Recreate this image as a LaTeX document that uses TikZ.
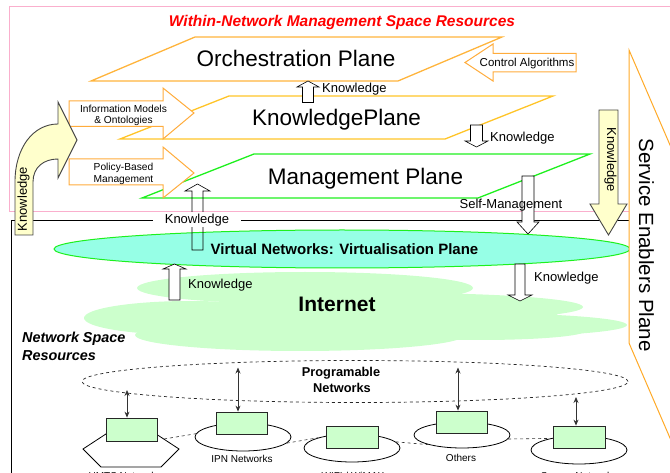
\documentclass[tikz,border=0pt]{standalone}
\usepackage{fontspec}
\setmainfont{Liberation Sans}
\usetikzlibrary{arrows.meta,shapes.geometric}

\definecolor{pinkline}{RGB}{250,175,205}
\definecolor{orchcol}{RGB}{255,180,60}
\definecolor{kpcol}{RGB}{255,196,40}
\definecolor{mgreen}{RGB}{30,240,30}
\definecolor{virtfill}{RGB}{150,255,230}
\definecolor{cloudgreen}{RGB}{204,255,204}
\definecolor{boxgreen}{RGB}{204,255,204}
\definecolor{paleyellow}{RGB}{255,255,204}
\definecolor{arrowgray}{RGB}{70,70,70}
\definecolor{titlered}{RGB}{255,0,0}
\definecolor{secol}{RGB}{255,170,40}
\definecolor{arrorange}{RGB}{255,172,60}

% vertical block arrow: style, x, tip y, head-base y, tail y, shaft half width, head half width
\newcommand{\vblockarrow}[7]{%
  \draw[#1] (#2-#6,#5) -- (#2-#6,#4) -- (#2-#7,#4) -- (#2,#3) -- (#2+#7,#4)
    -- (#2+#6,#4) -- (#2+#6,#5) -- cycle;}

\tikzset{
  planeorch/.style={draw=orchcol, line width=1.3pt, line join=miter},
  planekp/.style={draw=kpcol, line width=1.3pt, line join=miter},
  planemg/.style={draw=mgreen, line width=1.3pt, line join=miter},
  planelbl/.style={font=\fontsize{22.5}{27}\selectfont, inner sep=0pt, anchor=base},
  orangearrow/.style={draw=arrorange, fill=white, line width=1pt, line join=miter},
  hollowarrow/.style={draw=black, fill=white, line width=0.6pt},
  openarrow/.style={draw=black, line width=0.6pt},
  yellowarrow/.style={draw=arrowgray, fill=paleyellow, line width=0.9pt, line join=miter},
  klbl/.style={font=\fontsize{13}{15}\selectfont, inner sep=0pt},
  tinylbl/.style={font=\fontsize{10.2}{12}\selectfont, inner sep=0pt, anchor=base},
  netlbl/.style={font=\fontsize{10}{12}\selectfont, inner sep=0pt, anchor=base},
  netbox/.style={draw=black!85, fill=boxgreen, line width=0.8pt, minimum width=51pt,
    minimum height=22pt, inner sep=0pt},
  netring/.style={ellipse, draw=black, fill=white, line width=0.8pt, minimum width=96pt,
    minimum height=28pt, inner sep=0pt},
  linkdash/.style={draw=black!80, dashed, line width=0.6pt},
  updown/.style={draw=black!80, line width=0.8pt,
    {Stealth[length=6pt,width=5pt]}-{Stealth[length=6pt,width=5pt]}},
}

\begin{document}
\begin{tikzpicture}[x=1pt,y=-1pt]
\useasboundingbox (0,0) rectangle (670,473);
\clip (0,0) rectangle (670,473);

% frames of the two resource spaces
\draw[pinkline, line width=1pt] (670,7) -- (9,7) -- (9,212) -- (629,212);
\draw[black, line width=0.9pt] (629,220) -- (11,220) -- (11,473);

% Internet cloud
\begin{scope}[cloudgreen]
  \fill (305,288) ellipse [x radius=168pt, y radius=16pt];
  \fill (190,318) ellipse [x radius=106pt, y radius=17pt];
  \fill (400,307) ellipse [x radius=183pt, y radius=14pt];
  \fill (470,325) ellipse [x radius=157pt, y radius=12pt];
  \fill (300,335) ellipse [x radius=165pt, y radius=16pt];
  \fill (480,331) ellipse [x radius=105pt, y radius=9pt];
  \fill (360,318) ellipse [x radius=200pt, y radius=22pt];
\end{scope}
\node[font=\fontsize{21}{25}\selectfont\bfseries, inner sep=0pt, anchor=base] (inet) at (337,311.5) {Internet};

% virtualisation plane
\node[ellipse, draw=mgreen, fill=virtfill, line width=1pt, minimum width=576pt,
  minimum height=38pt, inner sep=0pt] (virt) at (342,249) {};
\node[font=\fontsize{15}{18}\selectfont\bfseries, inner sep=0pt, anchor=base] (virtlbl)
  at (344.5,255) {Virtual Networks: Virtualisation Plane};

% the three management-space planes
\draw[planeorch] (91,81) -- (195,37) -- (502,37) -- (398,81) -- cycle;
\node[planelbl] (orch) at (296,67) {Orchestration Plane};
\draw[planekp] (120,139) -- (229,96) -- (553,96) -- (445,139) -- cycle;
\node[planelbl] (kp) at (336.5,126) {KnowledgePlane};
\draw[planemg] (142,198) -- (254,154) -- (590,154) -- (478,198) -- cycle;
\node[planelbl] (mp) at (365.5,184.3) {Management Plane};

% title
\node[font=\fontsize{15.5}{18}\selectfont\bfseries\itshape, text=titlered, inner sep=0pt,
  anchor=base] (title) at (342,26.5) {Within-Network Management Space Resources};

% input arrows
\draw[orangearrow] (465,62.5) -- (493,44) -- (493,53.5) -- (576,53.5) -- (576,72)
  -- (493,72) -- (493,81) -- cycle;
\node[font=\fontsize{11.5}{13}\selectfont, inner sep=0pt, anchor=base] (ctrl) at (527,66.5) {Control Algorithms};

\draw[orangearrow] (69,101) -- (163,101) -- (163,88) -- (194,113) -- (163,139)
  -- (163,126.5) -- (69,126.5) -- cycle;
\node[tinylbl] (im1) at (123.5,112.3) {Information Models};
\node[tinylbl] (im2) at (123.5,124) {\& Ontologies};

\draw[orangearrow] (69,159) -- (163,159) -- (163,147) -- (194,173) -- (163,198)
  -- (163,185) -- (69,185) -- cycle;
\node[tinylbl] (pb1) at (123.5,170.7) {Policy-Based};
\node[tinylbl] (pb2) at (123.5,182.7) {Management};

% curved knowledge arrow on the left
\draw[yellowarrow] (15,235) -- (15,182) .. controls (15,148) and (33,124) .. (58,124)
  -- (58,102) -- (77,140) -- (58,178) -- (58,159)
  .. controls (44,159) and (33,167) .. (33,182) -- (33,235) -- cycle;
\node[klbl, rotate=90] (kleft) at (23.5,199) {Knowledge};

% knowledge arrow on the right
\vblockarrow{yellowarrow}{608.5}{235}{204}{110}{9.5}{18.5}
\node[klbl, rotate=-90] (kright) at (610.5,160) {Knowledge};

% knowledge flows between planes
\vblockarrow{hollowarrow}{308}{81}{87}{102.5}{5.5}{11}
\node[klbl, anchor=base west] (k1) at (322,92.3) {Knowledge};

\vblockarrow{hollowarrow}{476.5}{147}{141}{125}{6}{11.5}
\node[klbl, anchor=base west] (k2) at (490,141.7) {Knowledge};

\vblockarrow{openarrow}{197.5}{184}{191}{250}{5.5}{12.5}
\node[klbl, fill=white, minimum width=88pt, minimum height=15pt, anchor=center] (k3)
  at (197,220) {Knowledge};

\vblockarrow{hollowarrow}{528}{234}{222}{176}{6}{11}
\node[klbl, anchor=base] (selfm) at (511,209) {Self-Management};

\vblockarrow{hollowarrow}{174.5}{264}{269}{300}{5.5}{11.5}
\node[klbl, anchor=base west] (k4) at (188,288.7) {Knowledge};

\vblockarrow{hollowarrow}{520}{301}{295}{264}{5}{12}
\node[klbl, anchor=base west] (k5) at (534,282) {Knowledge};

% service enablers plane
\draw[secol, fill=white, line width=1pt] (629,50) -- (629,343) -- (700,507.5) -- (700,214.5) -- cycle;
\node[font=\fontsize{20.5}{24}\selectfont, inner sep=0pt, rotate=-90] (sep) at (646.5,245) {Service Enablers Plane};

% network space resources
\node[font=\fontsize{14.4}{18}\selectfont\bfseries\itshape, inner sep=0pt, anchor=base west] (ns1)
  at (22,342.7) {Network Space};
\node[font=\fontsize{14.4}{18}\selectfont\bfseries\itshape, inner sep=0pt, anchor=base west] (ns2)
  at (22,360.7) {Resources};

\node[ellipse, draw=black!85, dashed, line width=0.7pt, minimum width=546pt, minimum height=42pt,
  inner sep=0pt] (prog) at (355,381.5) {};
\node[font=\fontsize{12.8}{15}\selectfont\bfseries, inner sep=0pt, anchor=base] (pg1) at (341,376.7) {Programable};
\node[font=\fontsize{12.8}{15}\selectfont\bfseries, inner sep=0pt, anchor=base] (pg2) at (342,392.7) {Networks};

% access networks
\draw[draw=black, fill=white, line width=0.8pt] (83,449) -- (109,432) -- (153,432) -- (179,449)
  -- (161,467) -- (101,467) -- cycle;
\coordinate (umtsE) at (164,439);
\node[netring] (ipn) at (243,437) {};
\node[netring] (wifi) at (352,448) {};
\node[netring, minimum height=26pt] (others) at (462,435) {};
\node[netring] (sensor) at (579,450) {};

\draw[linkdash] (umtsE) -- (ipn.176);
\draw[linkdash] (ipn.-8) -- (wifi.163);
\draw[linkdash] (wifi.8) -- (others.196);
\draw[linkdash] (others.-5) -- (sensor.158);

\node[netbox, minimum height=23pt] (umtsbox) at (131.5,429.5) {};
\node[netbox] (ipnbox) at (241.5,423) {};
\node[netbox, minimum width=52pt] (wifibox) at (352,437) {};
\node[netbox] (othersbox) at (461.5,422) {};
\node[netbox, minimum width=52pt] (sensorbox) at (579,437) {};

\coordinate (pUmts) at (127,390);
\coordinate (pIpn) at (238,367.5);
\coordinate (pOthers) at (458,367.5);
\coordinate (pSensor) at (576,397);
\draw[updown] (pUmts) -- (pUmts |- umtsbox.north);
\draw[updown] (pIpn) -- (pIpn |- ipnbox.north);
\draw[updown] (pOthers) -- (pOthers |- othersbox.north);
\draw[updown] (pSensor) -- (pSensor |- sensorbox.north);

\node[netlbl] (umtslbl) at (125,479) {UMTS Networks};
\node[netlbl] (ipnlbl) at (242,462.3) {IPN Networks};
\node[netlbl] (wifilbl) at (353,479) {WIFI / WiMAX};
\node[netlbl] (otherslbl) at (461,461.7) {Others};
\node[netlbl] (sensorlbl) at (579,479) {Sensor Networks};
\end{tikzpicture}
\end{document}
